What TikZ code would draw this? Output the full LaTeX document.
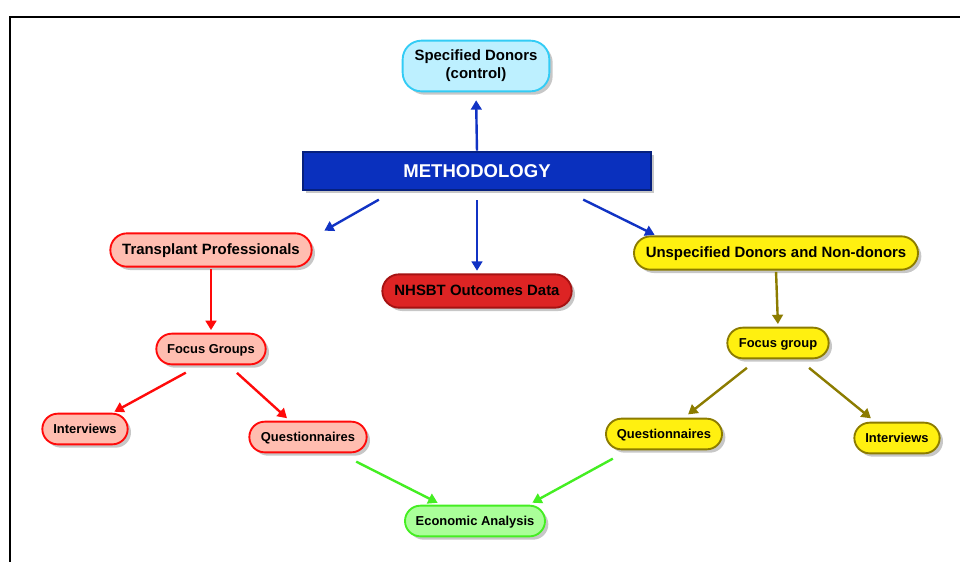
\documentclass[tikz,border=0pt]{standalone}
\usepackage{fontspec}
\setmainfont{Liberation Sans}
\usetikzlibrary{arrows.meta,shadows}
\definecolor{cyanfill}{HTML}{BDF0FF}
\definecolor{cyanline}{HTML}{33CCF5}
\definecolor{methfill}{HTML}{0A30BE}
\definecolor{methline}{HTML}{06207E}
\definecolor{redfill}{HTML}{FFBDB0}
\definecolor{redline}{HTML}{FF0A0A}
\definecolor{nhsfill}{HTML}{DD2424}
\definecolor{nhsline}{HTML}{A51212}
\definecolor{yelfill}{HTML}{FFF010}
\definecolor{yelline}{HTML}{8C7C00}
\definecolor{grnfill}{HTML}{AAFF99}
\definecolor{grnline}{HTML}{44EE22}
\definecolor{bluearrow}{HTML}{1133C4}
\begin{document}
\begin{tikzpicture}[x=0.75pt,y=-0.75pt,
  basebox/.style={draw, line width=1.4pt, inner sep=0pt, align=center,
    font=\bfseries\fontsize{11.2}{13.5}\selectfont,
    drop shadow={shadow xshift=2.5pt, shadow yshift=-2.5pt, opacity=0.22, fill=black}},
  bigpill/.style={basebox, rounded corners=12.5pt, minimum height=25pt, text height=0.8em, text depth=0.08em},
  smallpill/.style={basebox, rounded corners=11.5pt, minimum height=23pt, font=\bfseries\fontsize{9.7}{11}\selectfont, text height=0.8em, text depth=0.08em},
  redpill/.style={fill=redfill, draw=redline},
  yelpill/.style={fill=yelfill, draw=yelline},
  conn/.style={line width=1.8pt, -{Triangle[width=8pt,length=7pt]}, shorten <=1pt, shorten >=2pt},
]
\useasboundingbox (0,0) rectangle (960,562);
\fill[white] (0,0) rectangle (960,562);
% frame
\draw[line width=1.3pt] (960,17) -- (10,17) -- (10,562);

% nodes
\node[basebox, fill=cyanfill, draw=cyanline, rounded corners=14pt, minimum width=110pt, minimum height=38pt]
  (spec) at (476,66) {Specified Donors\\(control)};
\node[basebox, fill=methfill, draw=methline, rounded corners=0pt, minimum width=261pt, minimum height=28.5pt,
  text=white, font=\bfseries\fontsize{13.9}{16}\selectfont] (meth) at (477,171) {METHODOLOGY};
\node[bigpill, redpill, minimum width=151pt] (tp) at (211,250) {Transplant Professionals};
\node[bigpill, fill=nhsfill, draw=nhsline, minimum width=142pt] (nhs) at (477,291) {NHSBT Outcomes Data};
\node[bigpill, yelpill, minimum width=213pt] (unsp) at (776,253) {Unspecified Donors and Non-donors};
\node[smallpill, redpill, minimum width=82pt] (fgr) at (211,349) {Focus Groups};
\node[smallpill, yelpill, minimum width=76pt] (fgy) at (778,343) {Focus group};
\node[smallpill, redpill, minimum width=64pt] (intr) at (85,429) {Interviews};
\node[smallpill, redpill, minimum width=88pt] (qr) at (308,437) {Questionnaires};
\node[smallpill, yelpill, minimum width=87pt] (qy) at (664,434) {Questionnaires};
\node[smallpill, yelpill, minimum width=64pt] (inty) at (897,438) {Interviews};
\node[smallpill, fill=grnfill, draw=grnline, minimum width=105pt] (econ) at (475,521) {Economic Analysis};

% anchor points for connectors
\coordinate (m1) at (380,199);
\coordinate (m2) at (477,199);
\coordinate (m3) at (582,199);
\coordinate (m0) at (477,152);

% connectors
\draw[conn, bluearrow, shorten >=6pt] (m0) -- (spec.south);
\draw[conn, bluearrow] (m1) -- (322,232);
\draw[conn, bluearrow] (m2) -- (nhs.north);
\draw[conn, bluearrow] (m3) -- (657,236);
\draw[conn, redline] (tp.south) -- (fgr.north);
\draw[conn, redline] (187,372) -- (112,413);
\draw[conn, redline] (236,372) -- (289,420);
\draw[conn, yelline] (unsp.south) -- (fgy.north);
\draw[conn, yelline] (748,367) -- (686,416);
\draw[conn, yelline] (808,367) -- (873,420);
\draw[conn, grnline] (355,461) -- (440,504);
\draw[conn, grnline] (614,458) -- (530,504);
\end{tikzpicture}
\end{document}
